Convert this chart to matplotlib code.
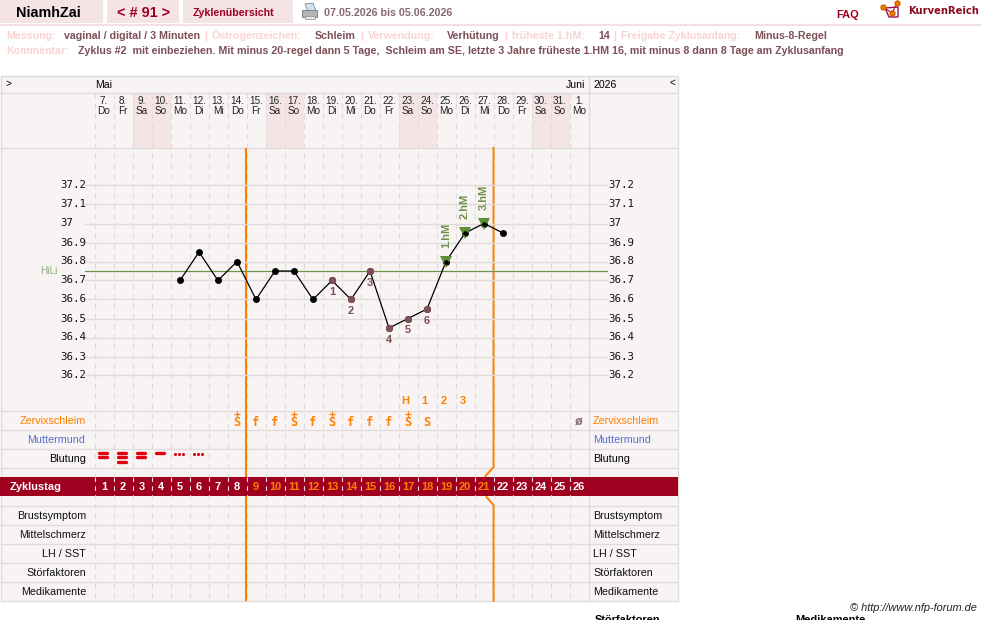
import matplotlib
matplotlib.use("Agg")
import matplotlib.pyplot as plt
from matplotlib.patches import Rectangle, Polygon

# --- data ---
cycle_days = list(range(1, 27))
dates = ["7.", "8.", "9.", "10.", "11.", "12.", "13.", "14.", "15.", "16.", "17.", "18.", "19.",
         "20.", "21.", "22.", "23.", "24.", "25.", "26.", "27.", "28.", "29.", "30.", "31.", "1."]
weekdays = ["Do", "Fr", "Sa", "So", "Mo", "Di", "Mi", "Do", "Fr", "Sa", "So", "Mo", "Di",
            "Mi", "Do", "Fr", "Sa", "So", "Mo", "Di", "Mi", "Do", "Fr", "Sa", "So", "Mo"]
weekend_days = [3, 4, 10, 11, 17, 18, 24, 25]

temp_days = [5, 6, 7, 8, 9, 10, 11, 12, 13, 14, 15, 16, 17, 18, 19, 20, 21, 22]
temps = [36.7, 36.85, 36.7, 36.8, 36.6, 36.75, 36.75, 36.6, 36.7, 36.6, 36.75, 36.45, 36.5,
         36.55, 36.8, 36.95, 37.0, 36.95]
low_days = [13, 14, 15, 16, 17, 18]
high_days = [19, 20, 21]
high_labels = ["1.hM", "2.hM", "3.hM"]
temp_ticks = [37.2, 37.1, 37.0, 36.9, 36.8, 36.7, 36.6, 36.5, 36.4, 36.3, 36.2]
temp_tick_labels = ["37.2", "37.1", "37", "36.9", "36.8", "36.7", "36.6", "36.5", "36.4", "36.3", "36.2"]
hili = 36.75

mucus_days = [8, 9, 10, 11, 12, 13, 14, 15, 16, 17, 18]
mucus_codes = ["S", "f", "f", "S", "f", "S", "f", "f", "f", "S", "S"]
mucus_plus_days = [8, 11, 13, 17]
peak_days = [17, 18, 19, 20]
peak_labels = ["H", "1", "2", "3"]
dry_day = 26
bleed_days = [1, 2, 3, 4]
bleed_bars = [2, 3, 2, 1]
spot_days = [5, 6]
phase_start = 9
phase_end = 21

top_rows = ["Zervixschleim", "Muttermund", "Blutung"]
top_row_colors = ["#ff8000", "#5570d0", "black"]
bottom_rows = ["Brustsymptom", "Mittelschmerz", "LH / SST", "Störfaktoren", "Medikamente"]

meta_items = [("Messung:", 6, "#f9d3d3"), ("vaginal / digital / 3 Minuten", 64, "#7d4f58"),
              ("|", 204, "#f9d3d3"), ("Östrogenzeichen:", 212, "#f9d3d3"), ("Schleim", 315, "#7d4f58"),
              ("|", 360, "#f9d3d3"), ("Verwendung:", 368, "#f9d3d3"), ("Verhütung", 447, "#7d4f58"),
              ("|", 504, "#f9d3d3"), ("früheste 1.hM:", 512, "#f9d3d3"), ("14", 598, "#7d4f58"),
              ("|", 613, "#f9d3d3"), ("Freigabe Zyklusanfang:", 621, "#f9d3d3"), ("Minus-8-Regel", 754, "#7d4f58")]
comment = ("Zyklus #2  mit einbeziehen. Mit minus 20-regel dann 5 Tage,  Schleim am SE, "
           "letzte 3 Jahre früheste 1.HM 16, mit minus 8 dann 8 Tage am Zyklusanfang")

PANEL = "#f9f4f4"
PINK = "#f4e4e6"
GRID = "#dfdbdb"
MAROON = "#a00020"
BROWN = "#7d4f58"
ORANGE = "#ff8000"
GREEN = "#5f8f35"
COL_W = 19
X0 = 94.5
X1 = 588.5
SANS = "Liberation Sans"


def px(size):
    return size * 0.72


def col_center(day):
    return X0 + (day - 0.5) * COL_W


plt.rcParams["font.family"] = [SANS, "DejaVu Sans"]
fig = plt.figure(figsize=(9.81, 6.2), dpi=100)
bg = fig.add_axes([0, 0, 1, 1])
bg.set_xlim(0, 981)
bg.set_ylim(620, 0)
bg.axis("off")


def label(x, y, s, size=11, color="black", weight="normal", ha="left", **kw):
    # baseline alignment so umlauts do not push a word up
    bg.text(x, y + size * 0.3, s, fontsize=px(size), color=color, fontweight=weight, ha=ha, va="baseline", **kw)


# page header
for x, w in [(0, 103), (107, 72), (183, 110)]:
    bg.add_patch(Rectangle((x, 0), w, 23, fc=PINK, ec="none"))
bg.hlines(24.5, 0, 981, color="#f4dfe2", lw=1.5)
label(16, 12.5, "NiamhZai", 14.4, "black", "bold")
label(144, 12.5, "< # 91 >", 14.5, MAROON, "bold", ha="center")
label(193, 12.5, "Zyklenübersicht", 10.6, MAROON, "bold")
label(324, 12.5, "07.05.2026 bis 05.06.2026", 10.6, "#86686e", "bold")
label(836, 14.5, "FAQ", 11, MAROON, "bold")
label(908, 10.5, "KurvenReich", 10, "#8a0a20", "bold", family="DejaVu Sans")

# printer icon
bg.add_patch(Polygon([(305, 4), (313, 3), (316, 11), (308, 12)], fc="#cfe0ee", ec="#7a8a98", lw=0.6))
bg.add_patch(Rectangle((302, 10), 15, 7, fc="#b5b5b5", ec="#777777", lw=0.6))
bg.add_patch(Rectangle((305, 16), 10, 3, fc="#e8e8e8", ec="#888888", lw=0.5))
# logo
bg.add_patch(Polygon([(885, 8), (889, 17), (898, 17), (898, 7)], fc="none", ec="#a01040", lw=1))
bg.plot([883, 892, 897], [7, 13, 3], color="#a01040", lw=0.8, marker="o", ms=3.5, mfc="#f08000", mec="#d06000")

# cycle info lines
for text, x, color in meta_items:
    label(x, 36, text, 10.6, color, "bold")
label(6, 51, "Kommentar:", 10.6, "#f9d3d3", "bold")
label(78, 51, comment, 10.6, BROWN, "bold")

# chart panel
bg.add_patch(Rectangle((0.5, 76), 677.5, 525, fc=PANEL, ec=GRID, lw=1))
for day in weekend_days:
    bg.add_patch(Rectangle((X0 + (day - 1) * COL_W, 93), COL_W, 55, fc=PINK, ec="none"))
for i in range(len(cycle_days)):
    bg.vlines(X0 + i * COL_W, 93, 601, color=GRID, lw=0.8, linestyles=(0, (5, 4)))
bg.vlines(X1, 76, 601, color=GRID, lw=1)
for y in [93, 148, 411, 430, 449, 468, 506, 525, 544, 563, 582]:
    bg.hlines(y, 0, 678, color=GRID, lw=1)

label(5, 84, ">", 10)
label(95.5, 85, "Mai", 10.5)
label(585, 85, "Juni", 10.5, ha="right")
label(593, 85, "2026", 10.5)
label(672, 83, "<", 10, ha="center")
for day, date, wd in zip(cycle_days, dates, weekdays):
    label(col_center(day), 101, date, 10, "#222222", ha="center")
    label(col_center(day), 111, wd, 10, "#222222", ha="center")

# temperature curve
ax = fig.add_axes([X0 / 981, 1 - 411 / 620, (X1 - X0) / 981, (411 - 148) / 620])
ax.set_xlim(0.5, 26.5)
ax.set_ylim(37.2 - (411 - 185.5) / 190, 37.2 + (185.5 - 148) / 190)
ax.axis("off")
ytrans = ax.get_yaxis_transform()
x_left = (85 - X0) / (X1 - X0)
x_right = (607 - X0) / (X1 - X0)
for val, txt in zip(temp_ticks, temp_tick_labels):
    ax.plot([x_left, x_right], [val, val], color=GRID, lw=1, transform=ytrans, clip_on=False, zorder=1)
    ax.text((60 - X0) / (X1 - X0), val, txt, transform=ytrans, family="DejaVu Sans Mono",
            fontsize=px(10.8), ha="left", va="center", color="#111111")
    ax.text((608 - X0) / (X1 - X0), val, txt, transform=ytrans, family="DejaVu Sans Mono",
            fontsize=px(10.8), ha="left", va="center", color="#111111")
ax.plot([x_left, x_right], [hili, hili], color="#6f9448", lw=0.9, transform=ytrans, clip_on=False, zorder=2)
ax.text((40 - X0) / (X1 - X0), hili + 0.002, "HiLi", transform=ytrans, fontsize=px(10),
        color="#8aa878", ha="left", va="center")

temp_by_day = dict(zip(temp_days, temps))
ax.plot(temp_days, temps, color="black", lw=0.9, marker="o", ms=5, mfc="black", mec="black", mew=0,
        zorder=4, clip_on=False)
ax.plot(low_days, [temp_by_day[d] for d in low_days], ls="none", marker="o", ms=5.2, mfc=BROWN, mec=BROWN,
        mew=0, zorder=5)
for n, day in enumerate(low_days, start=1):
    ax.annotate(str(n), (day, temp_by_day[day]), xytext=(0, -8.6), textcoords="offset points", ha="center",
                va="center", fontsize=px(11), fontweight="bold", color=BROWN, zorder=6)
for day, txt in zip(high_days, high_labels):
    val = temp_by_day[day]
    ax.plot([day], [val], ls="none", marker="v", ms=8.5, mfc=GREEN, mec=GREEN, mew=0, zorder=5)
    ax.plot([day], [val], ls="none", marker="D", ms=3, mfc="black", mec="black", mew=0, zorder=6)
    ax.annotate(txt, (day, val), xytext=(0, 10), textcoords="offset points", rotation=90, ha="center",
                va="bottom", fontsize=px(11), fontweight="bold", color="#6d9148", zorder=6)

# phase lines
bg.vlines(246, 148, 601, color=ORANGE, lw=1.5, zorder=3)
end_x = X0 + phase_end * COL_W
bg.plot([end_x, end_x, end_x - 8], [148, 467, 476], color=ORANGE, lw=1.4, zorder=3)
bg.plot([end_x - 7, end_x, end_x], [497, 505, 601], color=ORANGE, lw=1.4, zorder=3)

# symptom rows
for day, txt in zip(peak_days, peak_labels):
    label(col_center(day) - 2.5, 401, txt, 11, ORANGE, "bold", ha="center")
for day, code in zip(mucus_days, mucus_codes):
    label(col_center(day), 422.5, code, 12, ORANGE, "bold", ha="center", family="DejaVu Sans Mono")
for day in mucus_plus_days:
    bg.plot([col_center(day)], [414], ls="none", marker="+", ms=4.5, mew=0.9, color=ORANGE)
label(col_center(dry_day), 422, "ø", 13, "#8a7076", "bold", ha="center", family="DejaVu Sans Mono")

for day, n in zip(bleed_days, bleed_bars):
    cx = col_center(day) - 1
    for k in range(n):
        bg.plot([cx - 4, cx + 4], [453 + 4.4 * k] * 2, color="#e00010", lw=2.4, solid_capstyle="round", zorder=4)
for day in spot_days:
    cx = col_center(day) - 1
    bg.plot([cx - 4, cx, cx + 4], [453.5] * 3, ls="none", marker="o", ms=2.2, color="#d80010", mew=0)

for name, color, y in zip(top_rows, top_row_colors, [420.5, 439.5, 458.5]):
    label(85.5, y, name, 10.8, color, ha="right")
    label(593, y, name, 10.8, color)
for name, y in zip(bottom_rows, [515.5, 534.5, 553.5, 572.5, 591.5]):
    label(86, y, name, 10.8, "#111111", ha="right")
    label(593, y, name, 10.8, "#111111")

# cycle day bar
bg.add_patch(Rectangle((0, 477), 678, 19, fc=MAROON, ec="none", zorder=5))
label(10, 486.5, "Zyklustag", 11, "white", "bold", zorder=6)
for day in cycle_days:
    color = ORANGE if phase_start <= day <= phase_end else "white"
    label(col_center(day), 486.5, str(day), 11, color, "bold", ha="center", zorder=6)
    bg.vlines(X0 + (day - 1) * COL_W, 477, 496, color="#f0dfe0", lw=0.8, linestyles=(0, (4, 4)), zorder=6)

label(977, 608, "© http://www.nfp-forum.de", 11, "#222222", ha="right", style="italic")
label(595, 620, "Störfaktoren", 11, "black", "bold")
label(795, 620, "Medikamente", 11, "black", "bold")

fig.savefig("out.png", dpi=100)
plt.close(fig)
